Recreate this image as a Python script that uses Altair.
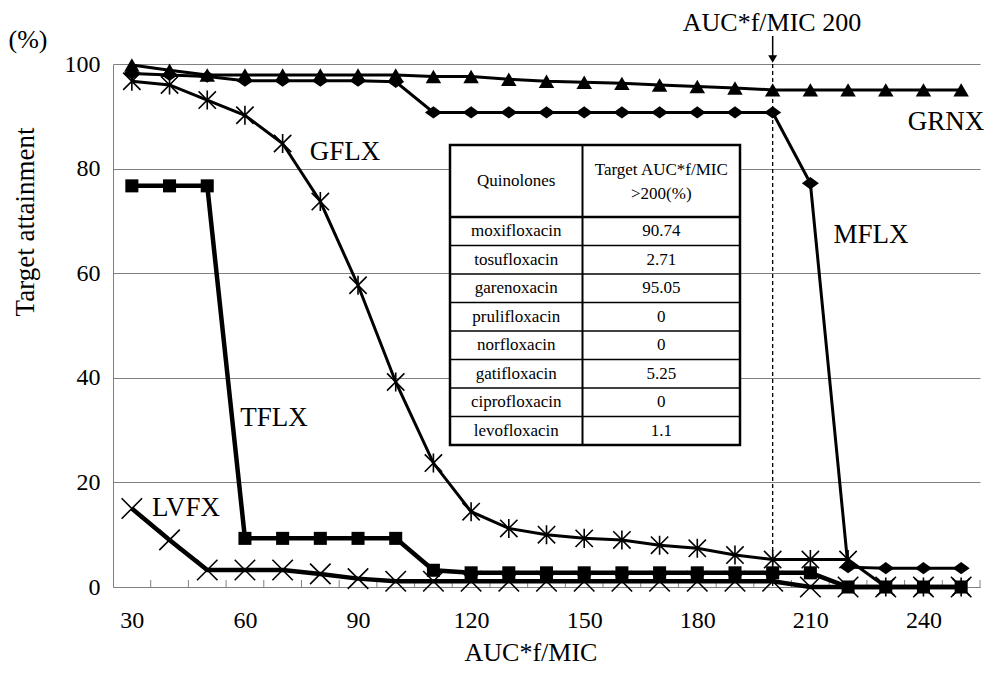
import altair as alt
import pandas as pd

# ---------------- data ----------------
auc = [30, 40, 50, 60, 70, 80, 90, 100, 110, 120, 130, 140, 150, 160, 170,
       180, 190, 200, 210, 220, 230, 240, 250]

grnx = [99.8, 98.8, 97.9, 97.9, 97.9, 97.9, 97.9, 97.9, 97.6, 97.6, 97.1, 96.7,
        96.5, 96.3, 96.0, 95.7, 95.4, 95.05, 95.05, 95.05, 95.05, 95.05, 95.05]
mflx = [98.2, 97.9, 97.6, 96.8, 96.8, 96.8, 96.8, 96.6, 90.74, 90.74, 90.74, 90.74,
        90.74, 90.74, 90.74, 90.74, 90.74, 90.74, 77.2, 3.8, 3.6, 3.6, 3.6]
gflx = [96.7, 96.0, 93.1, 90.2, 84.8, 73.7, 57.7, 39.2, 23.7, 14.4, 11.2, 10.0,
        9.3, 9.0, 8.0, 7.4, 6.1, 5.25, 5.25, 5.25, 0, 0, 0]
tflx = [76.7, 76.7, 76.7, 9.3, 9.3, 9.3, 9.3, 9.3, 3.2, 2.71, 2.71, 2.71,
        2.71, 2.71, 2.71, 2.71, 2.71, 2.71, 2.71, 0, 0, 0, 0]
lvfx = [15.0, 9.0, 3.25, 3.25, 3.25, 2.5, 1.6, 1.1, 1.1, 1.1, 1.1, 1.1,
        1.1, 1.1, 1.1, 1.1, 1.1, 1.1, 0, 0, 0, 0, 0]

series_names = ["GRNX", "MFLX", "GFLX", "TFLX", "LVFX"]
series_values = [grnx, mflx, gflx, tflx, lvfx]

x_labels = [30, 60, 90, 120, 150, 180, 210, 240]
y_ticks = [0, 20, 40, 60, 80, 100]
target_mic = 200

table_header = ["Quinolones", ["Target AUC*f/MIC", ">200(%)"]]
table_drugs = ["moxifloxacin", "tosufloxacin", "garenoxacin", "prulifloxacin",
               "norfloxacin", "gatifloxacin", "ciprofloxacin", "levofloxacin"]
table_values = ["90.74", "2.71", "95.05", "0", "0", "5.25", "0", "1.1"]

# ---------------- layout / styles ----------------
FONT = "Liberation Serif"
W, H = 867, 523
PAD_L, PAD_T = 105, 56
OX, OY = PAD_L + 8, PAD_T + 8  # page position of plot origin
X0, X1 = 25, 255

diamond = "M-1,0L0,-0.72L1,0L0,0.72Z"
asterisk = "M-1,-1L1,1M-1,1L1,-1M0,-1.1L0,1.1"
xcross = "M-1,-1L1,1M-1,1L1,-1"
styles = {
    "GRNX": dict(lw=3, shape="triangle-up", size=240, filled=True),
    "MFLX": dict(lw=3, shape=diamond, size=290, filled=True),
    "GFLX": dict(lw=3, shape=asterisk, size=300, filled=False),
    "TFLX": dict(lw=4.5, shape="square", size=170, filled=True),
    "LVFX": dict(lw=4.5, shape=xcross, size=420, filled=False),
}


def px_to_x(px):
    return X0 + (px - OX) / W * (X1 - X0)


def py_to_y(py):
    return (OY + H - py) / H * 100


xscale = alt.Scale(domain=[X0, X1], nice=False, zero=False)
yscale = alt.Scale(domain=[0, 100], nice=False, zero=True)
xaxis = alt.Axis(values=x_labels, title=None, ticks=False, tickSize=0, grid=False,
                 labelFont=FONT, labelFontSize=24, labelColor="black", labelPadding=21,
                 domainColor="#808080", domainWidth=1, format="d")
yaxis = alt.Axis(values=y_ticks, title=None, ticks=False, tickSize=0, grid=True,
                 gridColor="#808080", gridWidth=1, labelFont=FONT, labelFontSize=24,
                 labelColor="black", labelPadding=13, domainColor="#808080", domainWidth=1)

X = lambda: alt.X("auc:Q", scale=xscale, axis=xaxis)
Y = lambda: alt.Y("pct:Q", scale=yscale, axis=yaxis)

series_layers = []
for name, vals in zip(series_names, series_values):
    sdf = pd.DataFrame({"auc": auc, "pct": vals})
    st = styles[name]
    series_layers.append(
        alt.Chart(sdf).mark_line(color="black", strokeWidth=st["lw"]).encode(x=X(), y=Y())
    )
    if st["filled"]:
        pm = alt.Chart(sdf).mark_point(shape=st["shape"], size=st["size"], filled=True,
                                       color="black", opacity=1, strokeWidth=0)
    else:
        pm = alt.Chart(sdf).mark_point(shape=st["shape"], size=st["size"], filled=False,
                                       color="black", opacity=1, strokeWidth=1.6)
    series_layers.append(pm.encode(x=X(), y=Y()))

# inner ticks at category boundaries
tick_df = pd.DataFrame({"auc": [a + 5 for a in auc]})
ticks = alt.Chart(tick_df).mark_rule(color="#808080", strokeWidth=1).encode(
    x=X(), y=alt.value(H), y2=alt.value(H - 7))

# target line & arrow
tgt_df = pd.DataFrame({"auc": [target_mic]})
dashed = alt.Chart(tgt_df).mark_rule(color="black", strokeWidth=1.3, strokeDash=[4, 3]).encode(
    x=X(), y=alt.value(0), y2=alt.value(H))
arrow = alt.Chart(tgt_df).mark_rule(color="black", strokeWidth=1.5).encode(
    x=X(), y=alt.value(36 - OY), y2=alt.value(56 - OY))
arrow_head = alt.Chart(tgt_df).mark_point(shape="triangle-down", filled=True, color="black",
                                          opacity=1, size=80).encode(
    x=X(), y=alt.value(59 - OY))

# table
T_L, T_R, T_DIV, T_TOP, T_HB, ROW_H = 450, 740, 582.5, 145, 217, 28.5
T_BOT = T_HB + ROW_H * len(table_drugs)
tbl_box = alt.Chart(pd.DataFrame({"auc": [px_to_x(T_L)], "auc2": [px_to_x(T_R)],
                                  "pct": [py_to_y(T_TOP)], "pct2": [py_to_y(T_BOT)]})).mark_rect(
    fill="white", stroke="black", strokeWidth=2.5).encode(
    x=X(), x2="auc2:Q", y=Y(), y2="pct2:Q")
sep_df = pd.DataFrame({"pct": [py_to_y(T_HB + ROW_H * i) for i in range(1, len(table_drugs))]})
seps = alt.Chart(sep_df).mark_rule(color="black", strokeWidth=1.5).encode(
    y=Y(), x=alt.value(T_L - OX), x2=alt.value(T_R - OX))
hdr_line = alt.Chart(pd.DataFrame({"pct": [py_to_y(T_HB)]})).mark_rule(color="black", strokeWidth=2.5).encode(
    y=Y(), x=alt.value(T_L - OX), x2=alt.value(T_R - OX))
div_line = alt.Chart(pd.DataFrame({"auc": [px_to_x(T_DIV)]})).mark_rule(color="black", strokeWidth=2).encode(
    x=X(), y=alt.value(T_TOP - OY), y2=alt.value(T_BOT - OY))

row_df = pd.DataFrame({"name": table_drugs, "val": table_values,
                       "pct": [py_to_y(T_HB + ROW_H * (i + 0.5)) for i in range(len(table_drugs))]})
name_txt = alt.Chart(row_df).mark_text(font=FONT, fontSize=17, color="black", baseline="middle",
                                       align="center").encode(
    y=Y(), x=alt.value((T_L + T_DIV) / 2 - OX), text="name:N")
val_txt = alt.Chart(row_df).mark_text(font=FONT, fontSize=17, color="black", baseline="middle",
                                      align="center").encode(
    y=Y(), x=alt.value((T_DIV + T_R) / 2 - OX), text="val:N")

# free text annotations (page-pixel positions)
ann = [
    ("GFLX", 345, 152, 27, 0, "middle"),
    ("TFLX", 274, 418, 27, 0, "middle"),
    ("LVFX", 186, 508, 27, 0, "middle"),
    ("MFLX", 871, 235, 27, 0, "middle"),
    ("GRNX", 946, 122, 27, 0, "middle"),
    ("AUC*f/MIC 200", 772, 31, 26, 0, "alphabetic"),
    ("(%)", 28, 40, 26, 0, "middle"),
    ("AUC*f/MIC", 531, 661, 26, 0, "alphabetic"),
    ("Target attainment", 26, 222, 27, 270, "middle"),
    (table_header[0], (T_L + T_DIV) / 2, 181, 17, 0, "middle"),
    (table_header[1][0], (T_DIV + T_R) / 2, 170, 17, 0, "middle"),
    (table_header[1][1], (T_DIV + T_R) / 2, 194, 17, 0, "middle"),
]
ann_layers = []
for txt, px, py, fs, ang, bl in ann:
    ann_layers.append(
        alt.Chart(pd.DataFrame({"t": [txt]})).mark_text(
            font=FONT, fontSize=fs, color="black", align="center", baseline=bl, angle=ang
        ).encode(text="t:N", x=alt.value(px - OX), y=alt.value(py - OY))
    )

chart = alt.layer(
    ticks, *series_layers, dashed, arrow, arrow_head,
    tbl_box, seps, hdr_line, div_line, name_txt, val_txt, *ann_layers
).properties(
    width=W, height=H,
    autosize=alt.AutoSizeParams(type="none"),
    padding={"left": PAD_L, "top": PAD_T, "right": 5, "bottom": 80},
    background="white",
).configure_view(stroke=None)

chart.save("out.html", embed_options={"renderer": "svg", "actions": False})
